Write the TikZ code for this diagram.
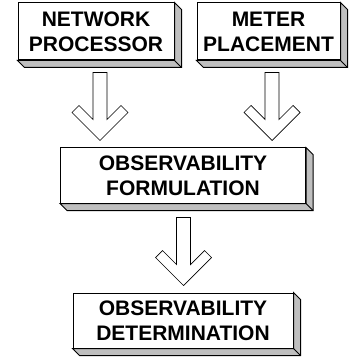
\documentclass[tikz,border=0pt]{standalone}
\usepackage{fontspec}
\setmainfont{Liberation Sans}
\usetikzlibrary{calc}
\tikzset{
  block/.style={draw, line width=1pt, fill=white, align=center, inner sep=0pt,
    font=\bfseries\fontsize{21}{25}\selectfont},
  depth/.style={draw, line width=1pt, fill=black!25, line join=miter},
  hollow/.style={draw, line width=0.7pt, fill=white, line join=miter}
}
% raised edge under and right of a block
\newcommand{\boxdepth}[1]{%
  \draw[depth] (#1.north east) -- ++(7,-7) -- ($(#1.south east)+(7,-7)$)
    -- ($(#1.south west)+(7,-7)$) -- (#1.south west) -- (#1.south east) -- cycle;
  \draw[line width=1pt] (#1.south east) -- ++(7,-7);}
% open arrow from a coordinate down to the top of a block
\newcommand{\flowarrow}[2]{%
  \draw[hollow] let \p1=(#1), \p2=($(#2.north)+(0,7)$) in
    (\x1-7pt,\y1) -- (\x1-7pt,\y2+21pt) -- (\x1-21pt,\y2+35pt)
    -- (\x1-28pt,\y2+28pt) -- (\x1,\y2) -- (\x1+28pt,\y2+28pt)
    -- (\x1+21pt,\y2+35pt) -- (\x1+7pt,\y2+21pt) -- (\x1+7pt,\y1) -- cycle;}
\begin{document}
\begin{tikzpicture}[x=1pt,y=1pt]
\useasboundingbox (0,0) rectangle (349,-358);
\node[block, minimum width=156, minimum height=57] (net) at (96,-31.5) {NETWORK\\PROCESSOR};
\node[block, minimum width=143, minimum height=57] (meter) at (268.5,-31.5) {METER\\PLACEMENT};
\node[block, minimum width=245, minimum height=55] (form) at (183,-175.5) {OBSERVABILITY\\FORMULATION};
\node[block, minimum width=220, minimum height=55] (det) at (183,-320.5) {OBSERVABILITY\\DETERMINATION};
\boxdepth{net}
\boxdepth{meter}
\boxdepth{form}
\boxdepth{det}
\coordinate (a1) at ($(net.south)+(4,-12)$);
\coordinate (a2) at ($(meter.south)+(3.5,-12)$);
\coordinate (a3) at ($(form.south)+(0.5,-14)$);
\flowarrow{a1}{form}
\flowarrow{a2}{form}
\flowarrow{a3}{det}
\end{tikzpicture}
\end{document}
